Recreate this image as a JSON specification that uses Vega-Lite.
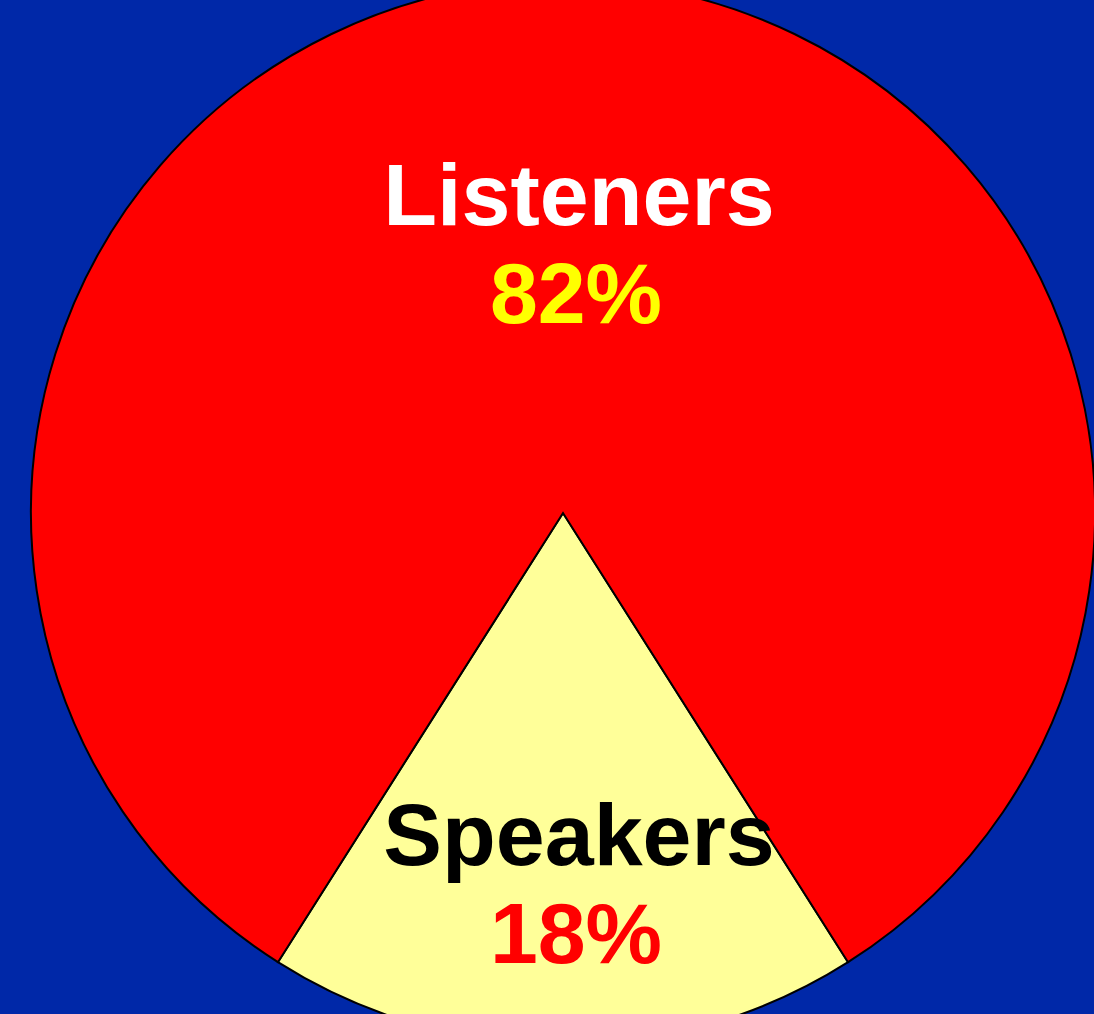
{
  "$schema": "https://vega.github.io/schema/vega-lite/v6.json",
  "width": 1062,
  "height": 1002,
  "autosize": "none",
  "padding": {"left": 32, "top": 12, "right": 0, "bottom": 0},
  "background": "#0028A8",
  "config": {"view": {"stroke": null}},
  "data": {
    "values": [
      {"group": "Speakers", "share": 18, "pct": "18%", "o": 1},
      {"group": "Listeners", "share": 82, "pct": "82%", "o": 2}
    ]
  },
  "encoding": {
    "theta": {"field": "share", "type": "quantitative", "stack": true, "scale": {"range": [2.5761, 8.8593]}},
    "order": {"field": "o", "type": "quantitative", "sort": "ascending"}
  },
  "layer": [
    {
      "mark": {"type": "arc", "outerRadius": 532, "stroke": "black", "strokeWidth": 2},
      "encoding": {
        "color": {"field": "group", "type": "nominal", "scale": {"domain": ["Speakers", "Listeners"], "range": ["#FFFF99", "#FF0000"]}, "legend": null}
      }
    },
    {
      "mark": {"type": "text", "radius": 320, "dx": 16, "dy": 32, "baseline": "alphabetic", "align": "center", "font": "Liberation Sans", "fontWeight": "bold", "fontSize": 88},
      "encoding": {
        "text": {"field": "group"},
        "color": {"condition": {"test": "datum.group === 'Listeners'", "value": "#FFFFFF"}, "value": "#000000"}
      }
    },
    {
      "mark": {"type": "text", "radius": 320, "dx": 13, "dy": 130, "baseline": "alphabetic", "align": "center", "font": "Liberation Sans", "fontWeight": "bold", "fontSize": 86},
      "encoding": {
        "text": {"field": "pct"},
        "color": {"condition": {"test": "datum.group === 'Listeners'", "value": "#FFFF00"}, "value": "#FF0000"}
      }
    }
  ]
}
